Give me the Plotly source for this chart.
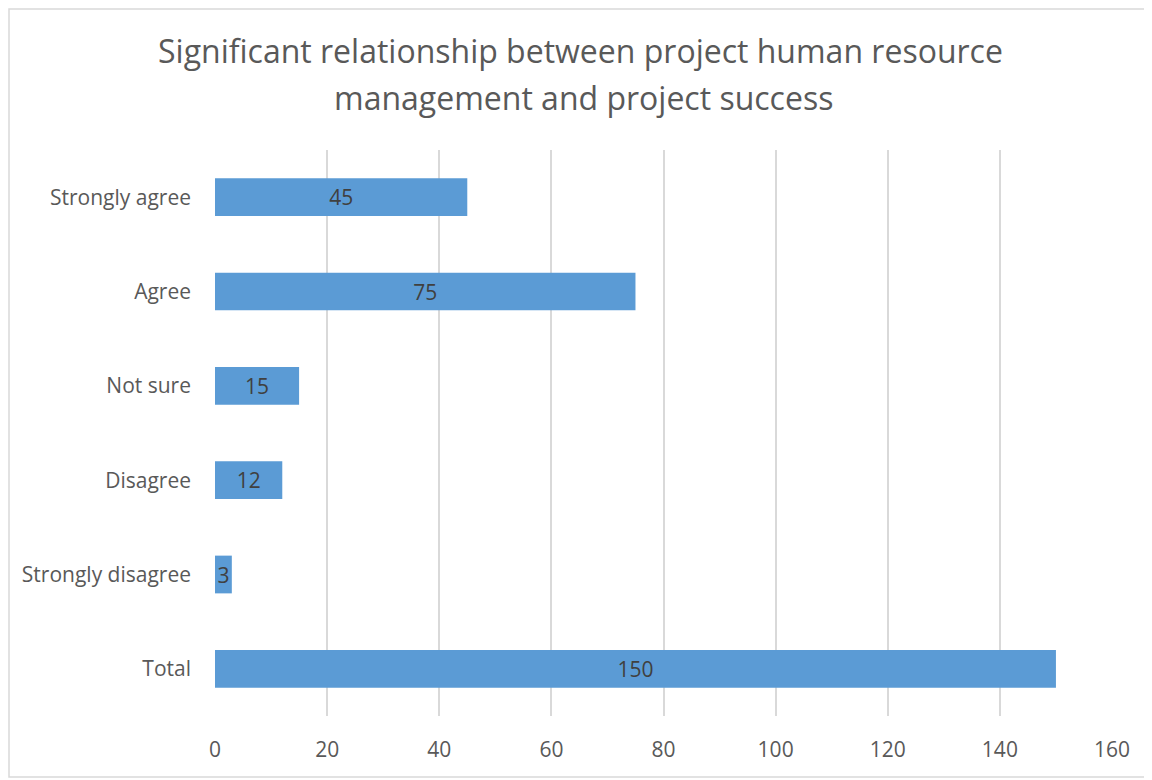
import plotly.graph_objects as go

categories = ["Strongly agree", "Agree", "Not sure", "Disagree", "Strongly disagree", "Total"]
values = [45, 75, 15, 12, 3, 150]
x_ticks = [0, 20, 40, 60, 80, 100, 120, 140, 160]
title_lines = ["Significant relationship between project human resource",
               "management and project success"]

OFF = 8  # page body margin
W, H = 1152 - OFF, 780 - OFF
ml, mr, mt, mb = 215 - OFF, 40, 150 - OFF, 64
pw, ph = W - ml - mr, H - mt - mb

def px(x): return (x - OFF - ml) / pw
def py(y): return (H - mb - (y - OFF)) / ph

fig = go.Figure(go.Bar(
    y=categories, x=values, orientation="h",
    marker=dict(color="#5B9BD5", line=dict(width=0)),
    width=0.4,
    text=[str(v) for v in values], textposition="inside", insidetextanchor="middle",
    constraintext="none", textangle=0,
    textfont=dict(family="Open Sans", size=21, color="#404040"),
    cliponaxis=False,
))

annotations = [
    dict(text=t, xref="paper", yref="paper", x=px(xc), y=py(yc), xanchor="center", yanchor="middle",
         showarrow=False, font=dict(family="Open Sans", size=32, color="#595959"))
    for t, xc, yc in zip(title_lines, [580, 583], [50, 97])
]

fig.update_layout(
    width=W, height=H,
    margin=dict(l=ml, r=mr, t=mt, b=mb),
    paper_bgcolor="white", plot_bgcolor="white",
    annotations=annotations,
    xaxis=dict(range=[0, 160], tickvals=x_ticks, showgrid=True, gridcolor="#D9D9D9", gridwidth=1.5,
               zeroline=False, showline=False, ticks="", tickfont=dict(family="Open Sans", size=21, color="#595959"),
               ticklabelstandoff=19),
    yaxis=dict(categoryorder="array", categoryarray=categories[::-1], showgrid=False, zeroline=False,
               showline=False, ticks="", ticklabelstandoff=23,
               tickfont=dict(family="Open Sans", size=21, color="#595959")),
    showlegend=False,
    shapes=[dict(type="rect", xref="paper", yref="paper", x0=px(9), x1=px(1149), y0=py(777), y1=py(9),
                 line=dict(color="#D9D9D9", width=1.5), fillcolor="rgba(0,0,0,0)", layer="below")],
)

fig.write_html("out.html")
